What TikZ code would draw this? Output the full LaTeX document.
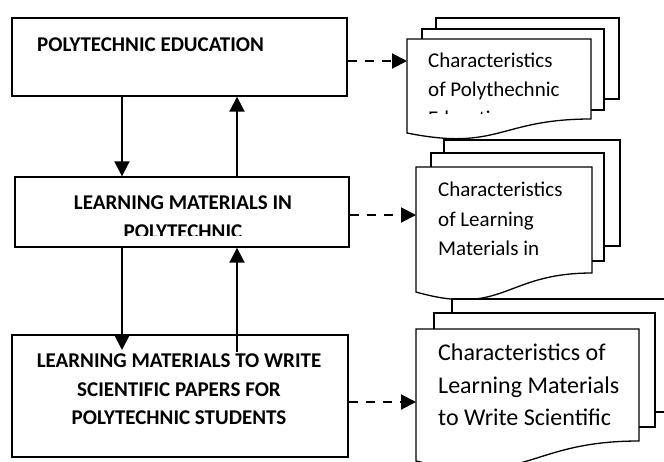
\documentclass[tikz,border=0pt]{standalone}
\usepackage{fontspec}
\setmainfont{Carlito}
\usetikzlibrary{arrows.meta}
\tikzset{
  boxstyle/.style={draw, line width=1.4pt, inner sep=0pt, fill=white},
  boxtext/.style={inner sep=0pt, font=\fontsize{21}{25}\selectfont\bfseries},
  doctext/.style={inner sep=0pt, anchor=base west, font=\fontsize{21}{25}\selectfont},
  doctextbig/.style={inner sep=0pt, anchor=base west, font=\fontsize{24}{28}\selectfont},
  sheet/.style={draw, line width=1.3pt, fill=white},
  arr/.style={line width=2pt, -{Triangle[length=15pt,width=15pt]}},
  darr/.style={line width=2pt, dash pattern=on 9pt off 8pt, -{Triangle[length=15pt,width=15pt]}}
}
\newcommand{\frontdoc}[5]{%
  \draw[sheet] (#1,#2) -- (#3,#2) -- (#3,#4)
    .. controls ({(#1+#3)/2},#4) and ({(#1+#3)/2},{#4+2.316*#5}) .. (#1,{#4+#5}) -- cycle;}
\begin{document}
\begin{tikzpicture}[x=1pt,y=-1pt]
\useasboundingbox (0,0) rectangle (664,461);
\clip (0,0) rectangle (664,461);
\fill[white] (0,0) rectangle (664,461);

% left boxes
\node[boxstyle, minimum width=335pt, minimum height=78pt] (b1) at (179.5,57) {};
\node[boxstyle, minimum width=334pt, minimum height=70pt] (b2) at (182,212) {};
\node[boxstyle, minimum width=336pt, minimum height=122pt] (b3) at (180,396) {};

\node[boxtext, anchor=base west] (t1) at (37,51) {POLYTECHNIC EDUCATION};
\node[boxtext, anchor=base] (t2a) at (183,209) {LEARNING MATERIALS IN};
\begin{scope}
  \clip (0,0) rectangle (664,235);
  \node[boxtext, anchor=base] (t2b) at (183,238.5) {POLYTECHNIC};
\end{scope}
\node[boxtext, anchor=base] (t3a) at (179,367) {LEARNING MATERIALS TO WRITE};
\node[boxtext, anchor=base] (t3b) at (179,396) {SCIENTIFIC PAPERS FOR};
\node[boxtext, anchor=base] (t3c) at (179,424) {POLYTECHNIC STUDENTS};

% vertical arrows
\coordinate (xL) at (122,0);
\coordinate (xR) at (237,0);
\coordinate (d3) at (122,350);
\coordinate (u3) at (237,352);
\draw[arr] (b1.south -| xL) -- (b2.north -| xL);
\draw[arr] (b2.north -| xR) -- (b1.south -| xR);
\draw[arr] (b2.south -| xL) -- (d3);
\draw[arr] (u3) -- (b2.south -| xR);

% document stacks
% doc 1
\draw[sheet] (436,18) rectangle (619,99);
\draw[sheet] (422,29) rectangle (604,110);
\frontdoc{407}{39}{591}{119}{14}
\node[doctext] (d1a) at (428,67) {Characteristics};
\node[doctext] (d1b) at (428,96) {of Polythechnic};
\begin{scope}
  \clip (0,0) rectangle (664,113);
  \node[doctext] (d1c) at (428,125.5) {Education};
\end{scope}

% doc 2
\draw[sheet] (444,140) rectangle (620,246);
\draw[sheet] (431,153) rectangle (604,261);
\frontdoc{416}{167}{592}{273}{19}
\node[doctext] (d2a) at (438,196) {Characteristics};
\node[doctext] (d2b) at (438,226) {of Learning};
\node[doctext] (d2c) at (438,255) {Materials in};

% doc 3
\draw[sheet] (452,299) rectangle (700,412);
\draw[sheet] (434,313) rectangle (655,427);
\frontdoc{416}{329}{639}{441}{20}
\node[doctextbig] (d3a) at (438,360) {Characteristics of};
\node[doctextbig] (d3b) at (438,393) {Learning Materials};
\node[doctextbig] (d3c) at (438,425) {to Write Scientific};

% dashed arrows
\coordinate (c1) at (407,61);
\coordinate (c2) at (416,215);
\coordinate (c3) at (416,402);
\draw[darr] (b1.east |- c1) -- (c1);
\draw[darr] (b2.east |- c2) -- (c2);
\draw[darr] (b3.east |- c3) -- (c3);
\end{tikzpicture}
\end{document}
